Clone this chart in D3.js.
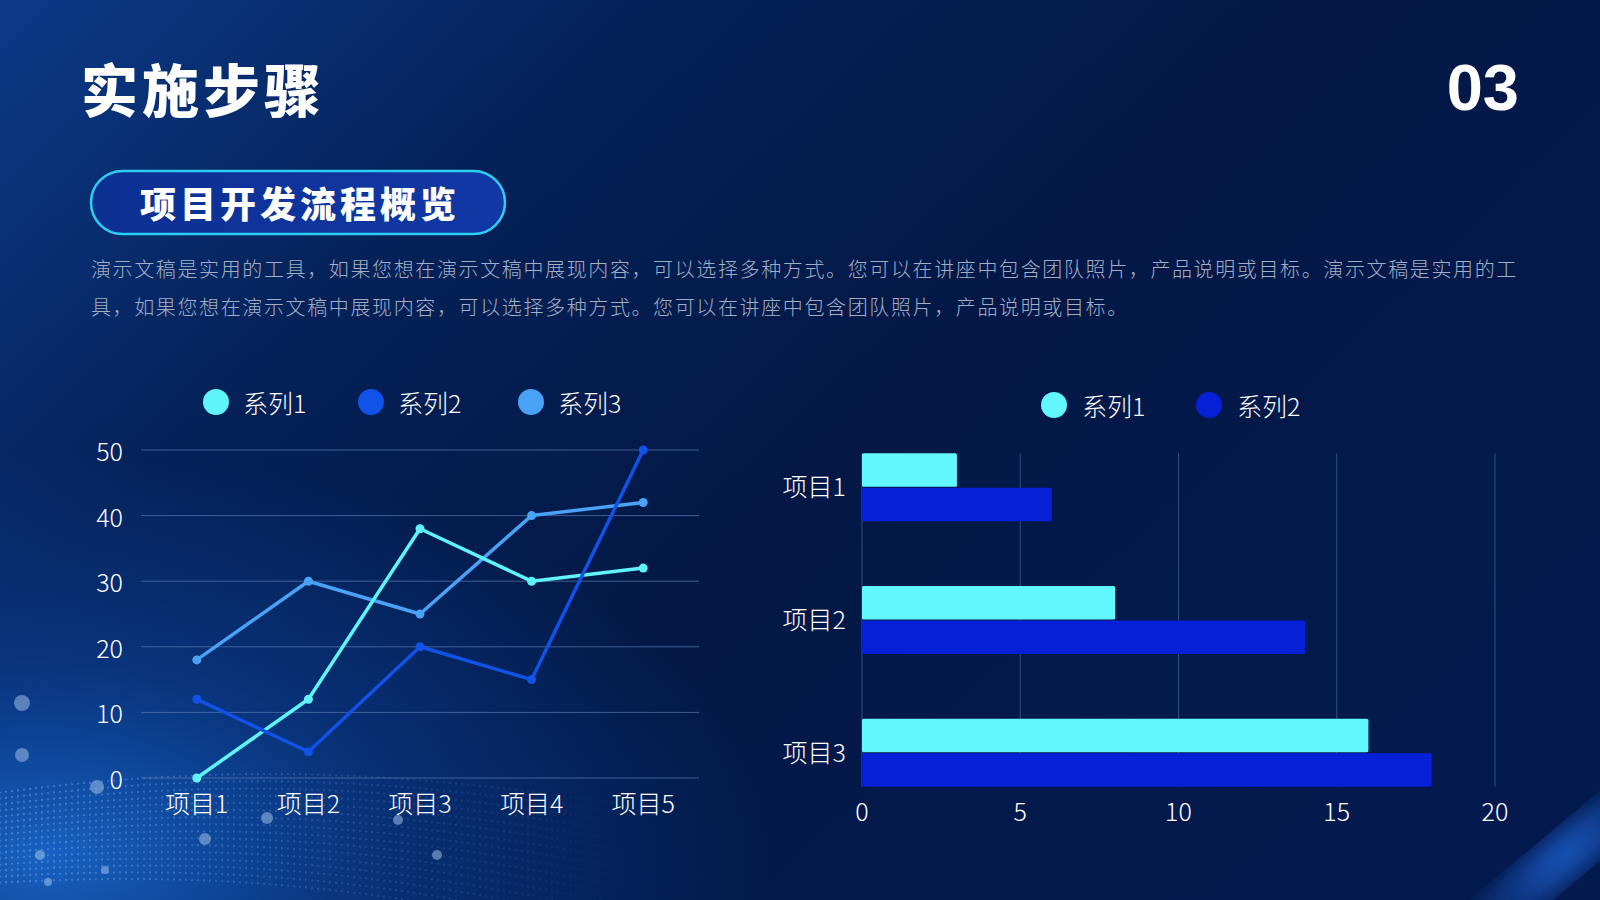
<!DOCTYPE html>
<meta charset="utf-8">
<script src="https://d3js.org/d3.v7.min.js"></script>
<style>
  body { margin: 0; background: #041848; }
  text { font-family: "Noto Sans CJK SC", "Noto Sans", sans-serif; }
</style>
<svg id="slide" width="1600" height="900"></svg>
<script>

// ---- data ----
const lineCats = ["项目1", "项目2", "项目3", "项目4", "项目5"];
const lineSeries = ["系列1", "系列2", "系列3"];
const line1 = [0, 12, 38, 30, 32];
const line2 = [12, 4, 20, 15, 50];
const line3 = [18, 30, 25, 40, 42];
const lineTicks = [0, 10, 20, 30, 40, 50];

const barCats = ["项目1", "项目2", "项目3"];
const barSeries = ["系列1", "系列2"];
const bar1 = [3, 8, 16];
const bar2 = [6, 14, 18];
const barTicks = [0, 5, 10, 15, 20];

const body1 = "演示文稿是实用的工具，如果您想在演示文稿中展现内容，可以选择多种方式。您可以在讲座中包含团队照片，产品说明或目标。演示文稿是实用的工";
const body2 = "具，如果您想在演示文稿中展现内容，可以选择多种方式。您可以在讲座中包含团队照片，产品说明或目标。";

const lineColors = ["#5ff3fb", "#1152e8", "#4aa2f6"];
const barColors = ["#62f6fd", "#0620d8"];

const svg = d3.select("#slide"),
  width = +svg.attr("width"),
  height = +svg.attr("height");

const defs = svg.append("defs");

// ---- background ----
const bg = defs.append("linearGradient").attr("id", "bg")
  .attr("x1", 0).attr("y1", 0).attr("x2", 1).attr("y2", 0.6);
bg.append("stop").attr("offset", 0).attr("stop-color", "#0b3a88");
bg.append("stop").attr("offset", 0.3).attr("stop-color", "#052158");
bg.append("stop").attr("offset", 0.6).attr("stop-color", "#031846");
bg.append("stop").attr("offset", 1).attr("stop-color", "#041a4e");

const glowL = defs.append("radialGradient").attr("id", "glowL")
  .attr("cx", 0.03).attr("cy", 0.95).attr("r", 0.45);
glowL.append("stop").attr("offset", 0).attr("stop-color", "#1a6ad0").attr("stop-opacity", 0.9);
glowL.append("stop").attr("offset", 0.5).attr("stop-color", "#0d4aa8").attr("stop-opacity", 0.45);
glowL.append("stop").attr("offset", 1).attr("stop-color", "#0d4aa8").attr("stop-opacity", 0);

const streak = defs.append("linearGradient").attr("id", "streak")
  .attr("x1", 0).attr("y1", 0).attr("x2", 1).attr("y2", 0);
streak.append("stop").attr("offset", 0).attr("stop-color", "#1a5fd0").attr("stop-opacity", 0);
streak.append("stop").attr("offset", 0.5).attr("stop-color", "#1e68e0").attr("stop-opacity", 0.75);
streak.append("stop").attr("offset", 1).attr("stop-color", "#1a5fd0").attr("stop-opacity", 0);
defs.append("filter").attr("id", "blur").append("feGaussianBlur").attr("stdDeviation", 10);

svg.append("rect").attr("width", width).attr("height", height).attr("fill", "url(#bg)");
svg.append("rect").attr("width", width).attr("height", height).attr("fill", "url(#glowL)");
svg.append("rect").attr("x", -60).attr("y", -22).attr("width", 120).attr("height", 44)
  .attr("fill", "url(#streak)").attr("filter", "url(#blur)")
  .attr("transform", "translate(1565,855) rotate(-40) scale(2.2,1)");

// particle wave, bottom left
const wave = svg.append("g").attr("opacity", 0.4);
d3.range(0, 16).forEach(function(row) {
  d3.range(0, 110).forEach(function(i) {
    const x = i * 6;
    const y = 812 + row * 6 - 38 * Math.sin((x + 140) / 260) + row * x * 0.005;
    const fade = Math.max(0, 1 - x / 660);
    if (y < 900) wave.append("circle").attr("cx", x).attr("cy", y).attr("r", 1.1)
      .attr("fill", "#8cc0ff").attr("opacity", fade);
  });
});

// bokeh dots (decoration)
const bokeh = [[22, 703, 8], [22, 755, 7], [97, 787, 7], [205, 839, 6], [267, 818, 6], [398, 820, 5], [437, 855, 5], [40, 855, 5], [105, 870, 4], [48, 882, 4]];
svg.append("g").selectAll("circle").data(bokeh).join("circle")
  .attr("cx", d => d[0]).attr("cy", d => d[1]).attr("r", d => d[2])
  .attr("fill", "#a9c8ee").attr("opacity", 0.5);

// ---- header ----
svg.append("text").attr("x", 81).attr("y", 87)
  .attr("dominant-baseline", "central")
  .attr("font-size", 57).attr("font-weight", 900).attr("letter-spacing", 4)
  .attr("fill", "#fff").text("实施步骤");

svg.append("text").attr("x", 1519).attr("y", 110)
  .attr("text-anchor", "end")
  .style("font-family", "'Liberation Sans', Arial, sans-serif")
  .attr("font-size", 65).attr("font-weight", 700)
  .attr("fill", "#fff").text("03");

const pill = defs.append("linearGradient").attr("id", "pill")
  .attr("x1", 0).attr("x2", 1);
pill.append("stop").attr("offset", 0).attr("stop-color", "#0c2f92");
pill.append("stop").attr("offset", 1).attr("stop-color", "#1238a6");

svg.append("rect").attr("x", 91).attr("y", 171).attr("width", 414).attr("height", 63)
  .attr("rx", 31.5).attr("fill", "url(#pill)")
  .attr("stroke", "#2ccff2").attr("stroke-width", 2.5);
svg.append("text").attr("x", 300).attr("y", 202)
  .attr("text-anchor", "middle").attr("dominant-baseline", "central")
  .attr("font-size", 36).attr("font-weight", 900).attr("letter-spacing", 4)
  .attr("fill", "#fff").text("项目开发流程概览");

svg.append("g").selectAll("text").data([body1, body2]).join("text")
  .attr("x", 91).attr("y", (d, i) => 268 + i * 38)
  .attr("dominant-baseline", "central")
  .attr("font-size", 20).attr("font-weight", 300).attr("letter-spacing", 1.62)
  .attr("fill", "#a3aec6").text(d => d);

// ---- line chart ----
const lx = d3.scaleBand().domain(lineCats).range([141, 699]);
const ly = d3.scaleLinear().domain([0, 50]).range([778, 450]);

const lg = svg.append("g");
lg.selectAll("line.grid").data(lineTicks).join("line")
  .attr("class", "grid")
  .attr("x1", 141).attr("x2", 699)
  .attr("y1", d => ly(d)).attr("y2", d => ly(d))
  .attr("stroke", "#5a7ab0").attr("stroke-opacity", 0.7).attr("stroke-width", 1);

lg.selectAll("text.yt").data(lineTicks).join("text")
  .attr("class", "yt")
  .attr("x", 123).attr("y", d => ly(d))
  .attr("text-anchor", "end").attr("dominant-baseline", "central")
  .attr("font-size", 25).attr("font-weight", 300).attr("fill", "#fff").text(d => d);

lg.selectAll("text.xt").data(lineCats).join("text")
  .attr("class", "xt")
  .attr("x", d => lx(d) + lx.bandwidth() / 2).attr("y", 802)
  .attr("text-anchor", "middle").attr("dominant-baseline", "central")
  .attr("font-size", 25).attr("font-weight", 300).attr("fill", "#fff").text(d => d);

const lineData = [line1, line2, line3];
const lineGen = d3.line()
  .x((d, i) => lx(lineCats[i]) + lx.bandwidth() / 2)
  .y(d => ly(d));

[2, 0, 1].forEach(function(s) {
  const g = lg.append("g");
  g.append("path").datum(lineData[s])
    .attr("d", lineGen)
    .attr("fill", "none")
    .attr("stroke", lineColors[s]).attr("stroke-width", 3.5)
    .attr("stroke-linejoin", "round");
  g.selectAll("circle").data(lineData[s]).join("circle")
    .attr("cx", (d, i) => lx(lineCats[i]) + lx.bandwidth() / 2)
    .attr("cy", d => ly(d))
    .attr("r", 4.5).attr("fill", lineColors[s]);
});

// legend
const lLeg = lg.append("g").selectAll("g").data(lineSeries).join("g")
  .attr("transform", (d, i) => `translate(${[216, 371, 531][i]},402)`);
lLeg.append("circle").attr("r", 13).attr("fill", (d, i) => lineColors[i]);
lLeg.append("text").attr("x", 27).attr("dominant-baseline", "central")
  .attr("font-size", 25).attr("font-weight", 300).attr("fill", "#fff").text(d => d);

// ---- bar chart ----
const bx = d3.scaleLinear().domain([0, 20]).range([862, 1495]);
const by = d3.scaleBand().domain(barCats).range([421, 819]);
const bSub = d3.scaleBand().domain(barSeries).range([0, 68]).paddingInner(0.03);
const bOff = by.bandwidth() / 2 - 34;
const gridTop = by(barCats[0]) + bOff;
const gridBot = by(barCats[barCats.length - 1]) + bOff + 68;

const bg2 = svg.append("g");
bg2.selectAll("line.grid").data(barTicks).join("line")
  .attr("class", "grid")
  .attr("x1", d => bx(d)).attr("x2", d => bx(d))
  .attr("y1", gridTop).attr("y2", gridBot)
  .attr("stroke", "#5a7ab0").attr("stroke-opacity", 0.55).attr("stroke-width", 1);

bg2.selectAll("text.xt").data(barTicks).join("text")
  .attr("class", "xt")
  .attr("x", d => bx(d)).attr("y", 810)
  .attr("text-anchor", "middle").attr("dominant-baseline", "central")
  .attr("font-size", 25).attr("font-weight", 300).attr("fill", "#fff").text(d => d);

bg2.selectAll("text.yt").data(barCats).join("text")
  .attr("class", "yt")
  .attr("x", 846).attr("y", d => by(d) + by.bandwidth() / 2 - 2)
  .attr("text-anchor", "end").attr("dominant-baseline", "central")
  .attr("font-size", 25).attr("font-weight", 300).attr("fill", "#fff").text(d => d);

const barData = [bar1, bar2];
barSeries.forEach(function(s, si) {
  bg2.append("g").selectAll("rect").data(barData[si]).join("rect")
    .attr("x", bx(0))
    .attr("y", (d, i) => by(barCats[i]) + bOff + bSub(s))
    .attr("width", d => bx(d) - bx(0))
    .attr("height", bSub.bandwidth())
    .attr("rx", 1.5)
    .attr("fill", barColors[si]);
});

const bLeg = bg2.append("g").selectAll("g").data(barSeries).join("g")
  .attr("transform", (d, i) => `translate(${[1054, 1209][i]},405)`);
bLeg.append("circle").attr("r", 13).attr("fill", (d, i) => barColors[i]);
bLeg.append("text").attr("x", 28).attr("dominant-baseline", "central")
  .attr("font-size", 25).attr("font-weight", 300).attr("fill", "#fff").text(d => d);

</script>
